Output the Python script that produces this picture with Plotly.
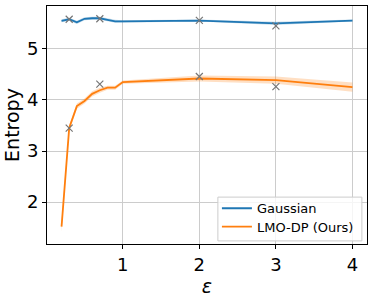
import plotly.graph_objects as go

eps = [0.2, 0.3, 0.4, 0.5, 0.6, 0.7, 0.8, 0.9, 1.0, 2.0, 3.0, 4.0]
gauss_mean = [5.55, 5.58, 5.52, 5.59, 5.60, 5.60, 5.57, 5.54, 5.54, 5.555, 5.50, 5.555]
gauss_err = [0.03, 0.03, 0.03, 0.03, 0.03, 0.03, 0.03, 0.03, 0.02, 0.02, 0.03, 0.02]
lmo_mean = [1.52, 3.45, 3.88, 3.98, 4.12, 4.19, 4.24, 4.24, 4.35, 4.42, 4.39, 4.25]
lmo_err = [0.10, 0.06, 0.05, 0.05, 0.05, 0.05, 0.04, 0.04, 0.03, 0.06, 0.07, 0.09]
mark_eps = [0.3, 0.7, 2.0, 3.0]
mark_gauss = [5.58, 5.59, 5.56, 5.45]
mark_lmo = [3.45, 4.31, 4.46, 4.26]

blue = "#1f77b4"
orange = "#ff7f0e"

fig = go.Figure()

def band(mean, err, fillcolor):
    up = [m + e for m, e in zip(mean, err)]
    lo = [m - e for m, e in zip(mean, err)]
    fig.add_trace(go.Scatter(x=eps + eps[::-1], y=up + lo[::-1], fill="toself",
                             fillcolor=fillcolor, line=dict(width=0),
                             hoverinfo="skip", showlegend=False, mode="lines"))

band(gauss_mean, gauss_err, "rgba(31,119,180,0.25)")
band(lmo_mean, lmo_err, "rgba(255,127,14,0.25)")

fig.add_trace(go.Scatter(x=eps, y=gauss_mean, mode="lines", name="Gaussian",
                         line=dict(color=blue, width=1.8), legend="legend"))
fig.add_trace(go.Scatter(x=eps, y=lmo_mean, mode="lines", name="LMO-DP (Ours)",
                         line=dict(color=orange, width=1.8), legend="legend2"))
fig.add_trace(go.Scatter(x=mark_eps, y=mark_gauss, mode="markers", showlegend=False,
                         marker=dict(symbol="x-thin", size=7, line=dict(color="#777777", width=1.2))))
fig.add_trace(go.Scatter(x=mark_eps, y=mark_lmo, mode="markers", showlegend=False,
                         marker=dict(symbol="x-thin", size=7, line=dict(color="#777777", width=1.2))))

axis_common = dict(showgrid=True, gridcolor="#cccccc", gridwidth=1, showline=True,
                   linecolor="black", linewidth=1, mirror=True, ticks="outside",
                   ticklen=4, tickcolor="black", zeroline=False, automargin=False,
                   tickfont=dict(family="DejaVu Sans", size=18, color="black"))

legend_common = dict(xanchor="left", yanchor="middle", bgcolor="rgba(0,0,0,0)",
                     borderwidth=0, font=dict(size=13, family="DejaVu Sans", color="black"),
                     itemwidth=30)

fig.update_layout(
    width=374, height=299,
    margin=dict(l=47, r=7, t=6, b=55),
    paper_bgcolor="white", plot_bgcolor="white",
    font=dict(family="DejaVu Sans", color="black"),
    xaxis=dict(range=[0.01, 4.19], tickvals=[1, 2, 3, 4],
               title=dict(text="<i>ε</i>", font=dict(size=19), standoff=4), **axis_common),
    yaxis=dict(range=[1.18, 5.84], tickvals=[2, 3, 4, 5],
               title=dict(text="Entropy", font=dict(size=19), standoff=2), **axis_common),
    legend=dict(x=0.531, y=0.150, **legend_common),
    legend2=dict(x=0.531, y=0.073, **legend_common),
    showlegend=True,
    shapes=[dict(type="rect", xref="paper", yref="paper", x0=0.534, x1=0.984,
                 y0=0.013, y1=0.197, line=dict(color="#cccccc", width=1),
                 fillcolor="rgba(255,255,255,0.8)", layer="above")],
)

fig.write_html("out.html", config={"displayModeBar": False},
               post_script="document.body.style.margin='0';")
